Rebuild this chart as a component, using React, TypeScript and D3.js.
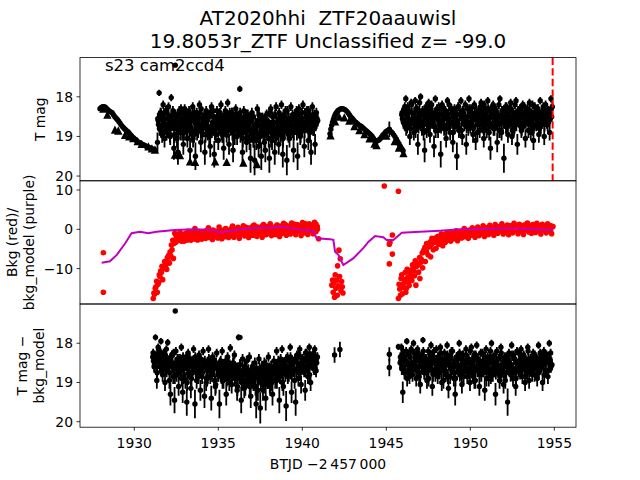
import React from "react";
import * as d3 from "d3";

// ---------------- text ----------------
const TITLE_LINES = ["AT2020hhi\u00a0 ZTF20aauwisl", "19.8053r_ZTF Unclassified z= -99.0"];
const FIELD_LABEL = "s23 cam2ccd4";
const X_LABEL = "BTJD \u22122\u2009457\u2009000";
const X_TICKS = [1930, 1935, 1940, 1945, 1950, 1955];
const MAG_TICKS = [18, 19, 20];
const BKG_TICKS = [10, 0, -10];
const X_DOMAIN = [1926.77, 1956.29];
const MAG_DOMAIN_TOP = [17.01, 20.12];
const BKG_DOMAIN = [-19.0, 12.34];
const MAG_DOMAIN_BOTTOM = [17.0, 20.14];
const SECTOR_END = 1954.9;
const CADENCE = 0.08;

// ---------------- panel 1: T mag ----------------
const P1_CURVE_A_START = 1927.96;
const P1_CURVE_A = [18.30, 18.27, 18.25, 18.25, 18.26, 18.30, 18.33, 18.36, 18.38, 18.40, 18.45, 18.50, 18.54, 18.58, 18.62, 18.67, 18.72, 18.76, 18.80, 18.83, 18.86, 18.89, 18.93, 18.97, 19.01, 19.04, 19.07, 19.10, 19.13, 19.15, 19.17, 19.19, 19.21, 19.22, 19.24, 19.26, 19.27, 19.29, 19.30, 19.32, 19.33, 19.35];

const P1_CURVE_B_T = [1941.65, 1941.70, 1941.75, 1941.80, 1941.85, 1941.90, 1941.95, 1942.00, 1942.06, 1942.12, 1942.18, 1942.25, 1942.32, 1942.40, 1942.48, 1942.56, 1942.64, 1942.72, 1942.80, 1942.88, 1942.96, 1943.04, 1943.12, 1943.20, 1943.28, 1943.36, 1943.44, 1943.52, 1943.60, 1943.68, 1943.76, 1943.84, 1943.92, 1944.00, 1944.08, 1944.16, 1944.24, 1944.32, 1944.40, 1944.48, 1944.56, 1944.64, 1944.72, 1944.80, 1944.88, 1944.96, 1945.04, 1945.12, 1945.20, 1945.28, 1945.36, 1945.44, 1945.52, 1945.60, 1945.68, 1945.76, 1945.84, 1945.92, 1946.00];
const P1_CURVE_B_MAG = [18.93, 18.82, 18.72, 18.64, 18.57, 18.51, 18.46, 18.42, 18.38, 18.35, 18.33, 18.31, 18.30, 18.30, 18.31, 18.33, 18.36, 18.40, 18.45, 18.50, 18.54, 18.58, 18.62, 18.65, 18.68, 18.71, 18.73, 18.75, 18.78, 18.81, 18.84, 18.87, 18.90, 18.93, 18.96, 19.00, 19.05, 19.10, 19.12, 19.11, 19.09, 19.06, 19.01, 18.96, 18.93, 18.89, 18.86, 18.84, 18.85, 18.88, 18.91, 18.96, 19.01, 19.07, 19.13, 19.19, 19.25, 19.31, 19.36];

const P1_LIMIT_T = [1928.16, 1928.40, 1928.85, 1929.05, 1929.45, 1929.70, 1929.94, 1930.20, 1930.44, 1930.84, 1931.05, 1931.23,
  1932.42, 1932.72, 1933.32, 1933.62, 1934.81, 1935.50, 1936.49, 1937.30,
  1941.68, 1941.95, 1942.20, 1942.50, 1942.80, 1943.10, 1943.40, 1943.70, 1944.00, 1944.30, 1944.42, 1945.00, 1945.50, 1945.75, 1946.02];
const P1_LIMIT_MAG = [18.30, 18.45, 18.83, 18.85, 18.96, 19.00, 19.04, 19.12, 19.19, 19.25, 19.30, 19.33,
  19.46, 19.47, 19.63, 19.64, 19.63, 19.64, 19.66, 19.70,
  18.97, 18.62, 18.50, 18.52, 18.60, 18.74, 18.84, 18.94, 19.05, 19.18, 19.22, 18.98, 19.12, 19.28, 19.42];

const P1_ORBIT1_START = 1931.40;
const P1_ORBIT1 = [
  18.55, 17.90, 18.40, 18.85, 18.20, 19.05, 18.35, 18.70, 18.25, 18.95,
  18.02, 18.60, 19.30, 18.45, 18.80, 19.40, 18.35, 18.90, 18.55, 19.20,
  18.30, 18.75, 19.05, 18.45, 19.35, 18.60, 18.25, 18.95, 19.50, 18.40,
  18.85, 18.20, 19.15, 18.55, 18.70, 19.40, 18.35, 18.90, 18.50, 19.25,
  18.25, 18.80, 19.45, 18.60, 18.35, 19.10, 18.70, 18.20, 18.95, 19.30,
  18.45, 18.85, 18.15, 19.20, 18.60, 18.40, 19.35, 18.75, 18.30, 19.00,
  18.55, 17.80, 18.90, 19.40, 18.35, 18.65, 19.15, 18.45, 18.85, 19.55,
  18.40, 19.05, 19.60, 18.70, 18.30, 19.25, 18.95, 19.50, 18.55, 18.85,
  19.35, 18.45, 18.80, 19.55, 18.30, 19.10, 18.65, 19.40, 18.25, 18.90,
  19.20, 18.50, 18.20, 19.45, 18.75, 18.35, 19.60, 18.60, 19.05, 18.25,
  18.85, 19.35, 18.45, 18.70, 19.50, 18.30, 19.00, 18.55, 18.20, 19.25,
  18.65, 18.35, 19.10, 18.50, 19.40, 18.25, 18.80, 19.20, 18.40, 18.60];

const P1_ORBIT1_CORE_START = 1931.44;
const P1_ORBIT1_CORE = [
  18.70, 18.50, 18.85, 18.60, 18.45, 18.75, 18.90, 18.55, 18.65, 18.80,
  18.45, 18.70, 18.95, 18.60, 18.50, 18.85, 18.65, 18.40, 18.75, 18.90,
  18.55, 18.70, 18.45, 18.85, 18.60, 18.95, 18.50, 18.65, 18.80, 18.55,
  18.70, 18.40, 18.85, 18.65, 18.50, 18.95, 18.60, 18.75, 18.45, 18.80,
  18.65, 18.50, 18.90, 18.70, 18.55, 18.80, 18.45, 18.65, 18.95, 18.60,
  18.75, 18.50, 18.85, 18.40, 18.70, 18.90, 18.55, 18.65, 18.80, 18.50,
  18.70, 18.95, 18.60, 18.80, 18.50, 18.75, 19.00, 18.65, 18.85, 18.55,
  18.80, 19.05, 18.70, 18.90, 18.60, 19.00, 18.75, 18.55, 18.95, 18.70,
  18.85, 18.60, 19.05, 18.75, 18.90, 18.50, 18.80, 19.00, 18.65, 18.85,
  18.55, 18.95, 18.70, 18.45, 18.85, 18.65, 18.90, 18.55, 18.75, 18.60,
  18.80, 18.50, 18.70, 18.90, 18.45, 18.65, 18.85, 18.55, 18.75, 18.40,
  18.70, 18.60, 18.85, 18.50, 18.65, 18.80, 18.45, 18.70, 18.55];

const P1_ORBIT1_MID_START = 1931.42;
const P1_ORBIT1_MID = [
  18.60, 18.80, 18.40, 18.95, 18.55, 18.70, 18.35, 18.85, 18.50, 19.00,
  18.65, 18.35, 18.80, 18.55, 19.05, 18.45, 18.70, 18.30, 18.90, 18.60,
  18.40, 18.85, 18.65, 18.35, 18.75, 18.50, 19.05, 18.40, 18.70, 18.90,
  18.50, 18.75, 18.30, 18.95, 18.60, 18.45, 18.80, 18.55, 19.00, 18.40,
  18.85, 18.35, 18.60, 18.95, 18.50, 18.70, 18.40, 18.90, 18.55, 18.75,
  18.35, 18.95, 18.65, 18.50, 18.80, 18.40, 18.70, 19.00, 18.45, 18.85,
  18.60, 18.40, 18.75, 19.05, 18.55, 18.90, 18.45, 18.70, 19.10, 18.60,
  18.95, 18.50, 18.85, 19.10, 18.70, 18.45, 19.00, 18.80, 18.60, 19.15,
  18.50, 18.90, 18.70, 18.40, 19.05, 18.65, 18.85, 18.45, 18.95, 18.75,
  18.40, 18.85, 18.60, 19.05, 18.50, 18.75, 18.35, 18.95, 18.65, 18.80,
  18.45, 18.90, 18.55, 18.35, 18.80, 18.60, 18.95, 18.40, 18.70, 18.85,
  18.50, 18.75, 18.35, 18.90, 18.60, 18.45, 18.80, 18.55, 18.65];

const P1_ORBIT2_START = 1945.92;
const P1_ORBIT2 = [
  18.45, 18.60, 18.30, 18.05, 18.75, 18.35, 19.00, 18.15, 18.55, 18.90,
  18.10, 18.65, 19.20, 18.35, 18.00, 18.80, 18.45, 19.35, 18.25, 18.70,
  18.15, 18.95, 18.40, 18.60, 19.25, 18.05, 18.50, 18.85, 18.30, 19.45,
  18.20, 18.70, 18.40, 19.05, 18.10, 18.55, 18.90, 18.30, 19.15, 18.45,
  18.65, 19.50, 18.25, 18.80, 18.10, 19.00, 18.45, 18.60, 19.20, 18.30,
  18.05, 18.75, 18.40, 18.95, 18.20, 19.10, 18.55, 18.35, 18.85, 18.15,
  18.60, 19.05, 18.30, 18.70, 18.10, 18.90, 19.30, 18.45, 18.20, 18.80,
  18.35, 19.15, 18.55, 18.05, 18.85, 18.40, 19.55, 18.65, 18.25, 18.95,
  18.50, 18.15, 19.00, 18.40, 18.75, 18.10, 19.20, 18.60, 18.30, 18.85,
  18.20, 18.65, 19.05, 18.35, 18.55, 18.15, 18.90, 18.45, 19.10, 18.25,
  18.70, 18.30, 18.95, 18.10, 18.55, 18.40, 19.00, 18.20, 18.65, 18.35,
  18.90, 18.05, 18.25];

const P1_ORBIT2_CORE_START = 1945.96;
const P1_ORBIT2_CORE = [
  18.55, 18.35, 18.70, 18.45, 18.25, 18.60, 18.80, 18.40, 18.50, 18.65,
  18.30, 18.55, 18.75, 18.45, 18.60, 18.35, 18.70, 18.50, 18.85, 18.40,
  18.60, 18.30, 18.65, 18.50, 18.75, 18.40, 18.55, 18.25, 18.70, 18.45,
  18.60, 18.80, 18.35, 18.55, 18.45, 18.70, 18.30, 18.65, 18.50, 18.75,
  18.40, 18.60, 18.85, 18.45, 18.55, 18.35, 18.70, 18.50, 18.65, 18.80,
  18.45, 18.30, 18.60, 18.75, 18.50, 18.40, 18.70, 18.55, 18.25, 18.65,
  18.45, 18.80, 18.55, 18.35, 18.60, 18.75, 18.40, 18.50, 18.70, 18.30,
  18.60, 18.45, 18.85, 18.50, 18.35, 18.65, 18.55, 18.75, 18.40, 18.60,
  18.30, 18.70, 18.50, 18.80, 18.45, 18.60, 18.35, 18.55, 18.75, 18.45,
  18.65, 18.40, 18.55, 18.30, 18.70, 18.50, 18.60, 18.80, 18.40, 18.55,
  18.35, 18.65, 18.45, 18.75, 18.50, 18.30, 18.60, 18.45, 18.70, 18.40,
  18.55, 18.50];

const P1_ORBIT2_MID_START = 1945.94;
const P1_ORBIT2_MID = [
  18.40, 18.65, 18.25, 18.80, 18.50, 18.35, 18.70, 18.20, 18.60, 18.45,
  18.85, 18.30, 18.55, 18.15, 18.70, 18.40, 18.90, 18.35, 18.60, 18.25,
  18.75, 18.50, 18.20, 18.65, 18.40, 18.85, 18.30, 18.60, 18.45, 18.75,
  18.25, 18.55, 18.35, 18.80, 18.50, 18.20, 18.65, 18.40, 18.90, 18.30,
  18.55, 18.70, 18.25, 18.45, 18.85, 18.35, 18.60, 18.20, 18.75, 18.50,
  18.30, 18.65, 18.45, 18.80, 18.25, 18.55, 18.90, 18.40, 18.60, 18.35,
  18.75, 18.20, 18.50, 18.85, 18.30, 18.65, 18.45, 18.25, 18.80, 18.55,
  18.40, 18.70, 18.20, 18.60, 18.90, 18.35, 18.50, 18.25, 18.75, 18.45,
  18.65, 18.30, 18.85, 18.50, 18.20, 18.70, 18.40, 18.55, 18.30, 18.80,
  18.45, 18.25, 18.65, 18.50, 18.85, 18.35, 18.60, 18.20, 18.75, 18.40,
  18.55, 18.30, 18.80, 18.45, 18.65, 18.25, 18.70, 18.50, 18.35, 18.60,
  18.45, 18.30];

const P1_EXTRA_T = [1932.44, 1931.38, 1945.18];
const P1_EXTRA_MAG = [17.20, 19.15, 18.82];
const P1_EXTRA_ERR = [0.03, 0.25, 0.20];

// ---------------- panel 2: background ----------------
const P2_ORBIT1_START = 1931.13;
const P2_ORBIT1 = [
  -17.6, -16.5, -14.6, -16.0, -13.5, -12.0, -11.0, -12.8, -9.9, -8.5, -10.2, -7.8, -8.6, -6.8, -5.2, -7.4, -1.0,
  -3.2, -1.5, -2.6, -0.8, -2.9, -1.8, -3.0, -1.2, -2.4, -0.5,
  -2.0, -2.8, -1.0, -2.2, 0.2, -1.6, -2.7, -0.9, -1.9, -2.5,
  -0.6, -1.8, -2.3, -1.1, 0.4, -2.0, -1.4, -2.6, -0.3, -1.7,
  -1.0, -2.2, 0.6, -1.5, -2.4, -0.7, -1.9, 0.2, -1.2, -2.1,
  -0.4, -1.6, 0.8, -2.0, -0.9, -1.3, 0.5, -2.3, -0.6, -1.1,
  0.9, -1.7, -0.2, -1.0, -2.1, 0.3, -0.8, -1.5, 1.1, -0.5,
  -1.8, 0.5, -1.2, -0.3, -2.0, 1.2, -0.7, -1.4, 0.2, -0.9,
  1.4, -1.6, 0.0, -0.6, -1.3, 1.0, -0.2, -1.8, 0.6, -1.0,
  1.5, -0.4, -1.5, 0.8, -0.1, -1.2, 1.6, -0.8, 0.3, -1.4,
  1.2, -0.5, 0.1, -1.6, 1.7, -0.3, -0.9, 0.9, -1.3, 1.4,
  -0.2, 0.5, -1.1, 1.8, -0.6, 0.7, -2.4];

const P2_RISE_T = [1931.17, 1931.25, 1931.33, 1931.41, 1931.49, 1931.57, 1931.65, 1931.73, 1931.81, 1931.89, 1931.97, 1932.05, 1932.13, 1932.21, 1932.29, 1932.37];
const P2_RISE_V = [-16.2, -15.0, -13.2, -14.0, -11.6, -10.6, -9.4, -10.0, -8.2, -9.0, -7.2, -6.6, -5.8, -4.0, -2.8, -3.6];

const P2_ORBIT1_CORE_START = 1932.50;
const P2_ORBIT1_CORE = [
  -1.8, -2.6, -1.2, -2.2, -3.0, -1.6, -2.4, -1.0, -2.8, -1.9,
  -1.4, -2.3, -0.8, -1.7, -2.5, -1.1, -2.0, -0.6, -1.5, -2.2,
  -1.0, -1.8, -0.4, -1.4, -2.1, -0.7, -1.6, -0.2, -1.2, -1.9,
  -0.5, -1.3, -2.0, -0.3, -1.0, -1.7, 0.0, -0.8, -1.5, -0.4,
  -1.1, 0.2, -0.6, -1.4, -0.1, -0.9, 0.4, -0.5, -1.2, 0.1,
  -0.7, -1.3, 0.5, -0.3, -1.0, 0.3, -0.6, 0.8, -0.2, -0.9,
  0.6, -0.4, 0.2, -0.8, 0.9, 0.0, -0.5, 0.7, -0.1, -0.7,
  1.0, 0.3, -0.4, 0.6, -0.2, 1.1, 0.1, -0.6, 0.8, 0.4,
  -0.3, 1.2, 0.0, 0.7, -0.5, 0.9, 0.2, -0.2, 1.3, 0.5,
  -0.4, 0.8, 0.1, 1.0, -0.3, 0.6, 1.4, -0.1, 0.7, 0.3,
  1.1, -0.2, 0.9, 0.4, 1.3, 0.0];

const P2_DIP_T = [1941.76, 1941.80, 1941.84, 1941.88, 1941.92, 1941.96, 1942.00, 1942.04, 1942.08, 1942.10, 1942.14, 1942.18, 1942.22, 1942.26, 1942.30, 1942.34, 1942.38, 1942.42];
const P2_DIP_V = [-14.2, -12.9, -16.0, -13.6, -17.3, -11.6, -15.0, -13.0, -16.8, -9.3, -14.4, -5.3, -12.0, -7.5, -15.6, -13.3, -14.6, -16.2];

const P2_ISOLATED_T = [1928.16, 1928.16, 1944.88, 1945.72, 1945.36, 1945.18, 1945.22, 1945.36, 1945.18];
const P2_ISOLATED_V = [-5.95, -16.0, 11.0, 9.7, -1.45, -3.8, -3.3, -6.3, -8.8];

const P2_ORBIT2_START = 1945.72;
const P2_ORBIT2 = [
  -17.6, -15.2, -12.5, -16.4, -13.8, -11.0, -15.0, -12.2, -14.3, -10.4,
  -13.0, -9.5, -11.8, -14.2, -8.6, -10.9, -12.5, -7.6, -9.8, -5.3,
  -8.2, -3.6, -6.5, -4.4, -7.0, -2.3, -5.2, -3.1, -4.8, -1.9,
  -3.8, -2.6, -1.2, -4.2, -2.0, -3.3, -0.9, -2.7, -1.6, -3.0,
  -1.0, -2.4, -1.8, -0.4, -2.9, -1.4, -0.7, -2.2, -1.1, 0.2,
  -1.9, -0.8, -2.3, -0.2, -1.5, 0.4, -1.2, -2.0, -0.5, 0.6,
  -1.6, -0.3, -1.0, 0.9, -1.8, -0.6, 0.3, -1.3, 1.0, -0.8,
  0.1, -1.5, 1.2, -0.4, -1.0, 0.7, -0.2, 1.4, -1.2, 0.4,
  -0.6, 1.1, -1.4, 0.2, 0.9, -0.9, 1.5, -0.3, 0.6, -1.1,
  1.3, -0.5, 0.3, -1.3, 1.0, -0.1, 1.6, -0.7, 0.5, -1.0,
  1.2, 0.0, -0.8, 1.5, -0.4, 0.8, -1.2, 1.3, -0.2, 0.6,
  -0.9, 1.4, -0.3, 0.9, -1.1, 0.7];

const P2_RECOVERY_T = [1945.76, 1945.84, 1945.92, 1946.00, 1946.08, 1946.16, 1946.24, 1946.32, 1946.40, 1946.48, 1946.56, 1946.64, 1946.72, 1946.80];
const P2_RECOVERY_V = [-14.0, -16.8, -11.6, -14.8, -12.8, -16.0, -10.2, -13.4, -11.2, -12.0, -9.0, -10.6, -8.0, -9.4];

const P2_ORBIT2_CORE_START = 1946.90;
const P2_ORBIT2_CORE = [
  -9.0, -7.2, -8.4, -6.0, -5.8, -4.6, -5.5, -3.9, -4.4, -3.2,
  -3.8, -2.7, -3.3, -2.2, -2.9, -1.8, -2.5, -3.1, -1.6, -2.3,
  -1.4, -2.0, -2.6, -1.2, -1.8, -0.9, -2.1, -1.5, -1.0, -1.9,
  -0.7, -1.4, -1.1, -0.5, -1.6, -0.8, -1.2, -0.3, -1.0, -0.6,
  -1.3, -0.2, -0.9, -0.4, -1.1, 0.0, -0.7, -0.3, 0.2, -0.8,
  -0.1, 0.4, -0.5, 0.1, -0.9, 0.3, -0.2, 0.6, -0.6, 0.2,
  0.5, -0.3, 0.8, 0.0, -0.5, 0.7, 0.3, -0.2, 0.9, 0.1,
  -0.4, 0.6, 0.2, 1.0, -0.1, 0.4, 0.8, -0.3, 0.5, 1.1,
  0.0, 0.7, 0.3, -0.2, 0.9, 0.4, 1.2, 0.1, 0.6, -0.1,
  0.8, 0.3, 1.0, 0.2, 0.5, 0.9, -0.2, 0.6, 0.4, 0.8];

const BKG_MODEL_T = [1928.06, 1928.55, 1928.96, 1929.45, 1929.84, 1930.34, 1930.84, 1931.32, 1932.42, 1933.51, 1934.70, 1935.10, 1936.29, 1937.46, 1938.27, 1938.67, 1939.68, 1940.66, 1940.76, 1940.86, 1941.64, 1941.85, 1941.95, 1942.15, 1942.44, 1943.03, 1943.63, 1943.93, 1944.33, 1944.82, 1945.02, 1945.42, 1945.92, 1947.00, 1948.20, 1949.38, 1950.56, 1952.17, 1953.75, 1954.95];
const BKG_MODEL_V = [-8.5, -8.15, -6.5, -3.6, -1.0, -0.6, -1.0, -0.6, -0.2, 0.0, -0.2, -0.8, 0.0, 0.4, 0.4, 0.7, 0.0, -0.35, -1.45, -2.3, -2.5, -2.7, -5.7, -6.5, -9.1, -7.4, -4.8, -3.2, -1.7, -2.0, -2.7, -2.7, -0.85, -0.6, -0.35, 0.0, 0.0, 0.25, 0.1, -0.2];

// ---------------- panel 3: T mag - bkg_model ----------------
const P3_ORBIT1_START = 1931.10;
const P3_ORBIT1_STEP = 0.081;
const P3_ORBIT1 = [
  18.35, 18.60, 17.85, 18.95, 18.10, 18.45, 17.95, 18.70, 18.25, 19.00,
  18.15, 17.98, 18.55, 19.30, 18.30, 18.85, 19.45, 18.20, 18.65, 19.10,
  18.40, 18.10, 19.25, 18.60, 18.95, 19.50, 18.25, 18.75, 19.15, 18.45,
  18.15, 19.55, 18.50, 18.85, 18.30, 19.20, 18.65, 18.20, 19.35, 18.55,
  18.90, 18.15, 18.70, 19.40, 18.35, 18.60, 19.10, 18.25, 18.80, 19.55,
  18.45, 18.20, 18.95, 18.60, 19.30, 18.35, 18.75, 18.12, 19.05, 18.50,
  18.30, 18.85, 19.20, 17.85, 18.55, 19.45, 18.40, 18.70, 19.10, 18.45,
  18.90, 18.35, 19.35, 18.65, 19.00, 18.50, 19.55, 18.80, 18.40, 19.65,
  18.75, 19.20, 18.50, 19.40, 18.85, 18.35, 19.05, 18.60, 19.30, 18.45,
  18.95, 18.20, 18.70, 19.45, 18.40, 18.15, 19.10, 18.55, 19.60, 18.35,
  18.80, 18.10, 19.25, 18.50, 18.70, 19.50, 18.30, 18.90, 18.15, 19.05,
  18.45, 18.65, 19.20, 18.25, 18.85, 18.10, 19.00, 18.40, 18.60, 18.15,
  18.70, 18.35];

const P3_ORBIT1_CORE_START = 1931.14;
const P3_ORBIT1_CORE = [
  18.45, 18.30, 18.60, 18.40, 18.25, 18.55, 18.70, 18.35, 18.50, 18.65,
  18.40, 18.55, 18.75, 18.45, 18.30, 18.65, 18.50, 18.80, 18.40, 18.60,
  18.70, 18.45, 18.85, 18.55, 18.35, 18.65, 18.75, 18.50, 18.90, 18.60,
  18.45, 18.70, 18.55, 18.85, 18.40, 18.65, 18.75, 18.50, 18.60, 18.90,
  18.55, 18.70, 18.45, 18.80, 18.60, 18.95, 18.50, 18.65, 18.75, 18.55,
  18.85, 18.60, 18.70, 18.45, 18.90, 18.65, 18.55, 18.80, 18.70, 18.60,
  18.75, 18.90, 18.65, 18.85, 18.70, 19.00, 18.80, 18.60, 18.95, 18.75,
  18.85, 19.05, 18.70, 18.95, 18.80, 19.10, 18.75, 18.90, 18.65, 19.00,
  18.85, 18.70, 19.05, 18.80, 18.95, 18.65, 18.85, 19.00, 18.75, 18.60,
  18.90, 18.70, 18.55, 18.85, 18.65, 18.75, 18.50, 18.80, 18.60, 18.70,
  18.45, 18.75, 18.55, 18.65, 18.40, 18.70, 18.50, 18.60, 18.35, 18.65,
  18.55, 18.45, 18.70, 18.40, 18.60, 18.30, 18.55, 18.45, 18.65, 18.35,
  18.50];

const P3_ORBIT1_MID_START = 1931.12;
const P3_ORBIT1_MID = [
  18.25, 18.55, 18.40, 18.75, 18.15, 18.60, 18.35, 18.80, 18.50, 18.30,
  18.70, 18.45, 18.95, 18.35, 18.60, 18.25, 18.85, 18.55, 18.40, 18.75,
  18.50, 18.90, 18.35, 18.65, 18.45, 19.00, 18.55, 18.40, 18.80, 18.50,
  18.65, 18.35, 18.95, 18.55, 18.75, 18.40, 18.85, 18.60, 18.45, 19.00,
  18.65, 18.40, 18.85, 18.55, 18.70, 18.45, 19.05, 18.60, 18.80, 18.50,
  18.70, 18.95, 18.55, 18.80, 18.45, 18.75, 19.00, 18.60, 18.85, 18.50,
  18.90, 18.65, 19.10, 18.70, 18.55, 18.95, 18.75, 19.15, 18.65, 18.85,
  18.70, 19.10, 18.80, 18.60, 19.00, 18.85, 18.65, 19.20, 18.75, 18.90,
  18.60, 19.05, 18.80, 18.55, 18.95, 18.70, 19.10, 18.60, 18.85, 18.75,
  18.55, 18.95, 18.45, 18.80, 18.60, 19.00, 18.50, 18.70, 18.40, 18.85,
  18.60, 18.35, 18.80, 18.50, 18.95, 18.40, 18.65, 18.30, 18.75, 18.50,
  18.40, 18.70, 18.25, 18.60, 18.45, 18.80, 18.35, 18.55, 18.25, 18.65,
  18.40];

const P3_ORBIT2_START = 1945.82;
const P3_ORBIT2 = [
  18.50, 18.10, 19.25, 18.35, 18.70, 17.95, 18.55, 18.85, 18.20, 18.65,
  18.00, 18.45, 18.90, 18.15, 18.60, 19.05, 18.30, 17.92, 18.75, 18.40,
  18.95, 18.20, 18.55, 18.05, 19.10, 18.35, 18.70, 18.15, 18.85, 18.45,
  18.10, 19.00, 18.50, 18.25, 18.80, 18.05, 19.15, 18.40, 18.65, 18.20,
  18.90, 19.30, 18.35, 18.60, 18.00, 18.75, 19.05, 18.30, 18.55, 18.15,
  18.85, 18.40, 19.00, 18.10, 18.65, 18.30, 18.95, 18.05, 18.50, 19.10,
  18.25, 18.70, 18.45, 19.20, 18.15, 18.60, 18.90, 18.35, 18.00, 18.80,
  18.45, 19.30, 18.20, 18.65, 18.95, 18.10, 18.55, 19.05, 18.35, 18.75,
  19.50, 18.25, 18.60, 18.05, 18.90, 18.40, 19.10, 18.20, 18.70, 18.45,
  18.15, 18.85, 18.30, 19.00, 18.55, 18.10, 18.95, 18.40, 18.65, 18.25,
  18.80, 18.35, 18.90, 18.05, 18.60, 18.45, 19.00, 18.20, 18.70, 18.30,
  18.85, 18.00, 18.25, 18.55];

const P3_ORBIT2_CORE_START = 1945.86;
const P3_ORBIT2_CORE = [
  18.45, 18.30, 18.60, 18.40, 18.20, 18.55, 18.70, 18.35, 18.50, 18.65,
  18.25, 18.45, 18.60, 18.35, 18.75, 18.50, 18.30, 18.65, 18.45, 18.55,
  18.70, 18.40, 18.60, 18.30, 18.80, 18.50, 18.45, 18.65, 18.35, 18.75,
  18.55, 18.40, 18.70, 18.60, 18.45, 18.85, 18.50, 18.35, 18.65, 18.55,
  18.75, 18.45, 18.60, 18.40, 18.80, 18.55, 18.30, 18.70, 18.50, 18.65,
  18.40, 18.75, 18.55, 18.45, 18.85, 18.60, 18.35, 18.70, 18.50, 18.60,
  18.80, 18.45, 18.65, 18.35, 18.75, 18.55, 18.50, 18.85, 18.40, 18.60,
  18.70, 18.45, 18.55, 18.80, 18.35, 18.65, 18.50, 18.75, 18.45, 18.60,
  18.40, 18.70, 18.55, 18.65, 18.30, 18.75, 18.50, 18.60, 18.45, 18.70,
  18.35, 18.55, 18.65, 18.45, 18.75, 18.40, 18.60, 18.50, 18.70, 18.35,
  18.55, 18.45, 18.65, 18.40, 18.60, 18.30, 18.55, 18.45, 18.70, 18.35,
  18.50, 18.40, 18.55];

const P3_ORBIT2_MID_START = 1945.84;
const P3_ORBIT2_MID = [
  18.35, 18.65, 18.20, 18.75, 18.45, 18.90, 18.30, 18.60, 18.15, 18.80,
  18.50, 18.35, 18.70, 18.25, 18.85, 18.45, 18.60, 18.20, 18.75, 18.40,
  18.55, 18.90, 18.30, 18.65, 18.45, 18.20, 18.80, 18.55, 18.35, 18.70,
  18.25, 18.60, 18.95, 18.40, 18.75, 18.30, 18.55, 18.85, 18.20, 18.65,
  18.45, 18.90, 18.35, 18.70, 18.25, 18.60, 18.40, 18.85, 18.55, 18.30,
  18.75, 18.50, 18.20, 18.65, 18.45, 18.95, 18.30, 18.60, 18.40, 18.80,
  18.55, 18.25, 18.70, 18.45, 18.90, 18.35, 18.65, 18.20, 18.80, 18.50,
  18.30, 18.75, 18.60, 18.40, 18.85, 18.25, 18.70, 18.45, 18.95, 18.35,
  18.60, 18.50, 18.80, 18.30, 18.65, 18.40, 18.90, 18.55, 18.25, 18.75,
  18.45, 18.60, 18.35, 18.85, 18.50, 18.20, 18.70, 18.40, 18.80, 18.55,
  18.30, 18.65, 18.45, 18.75, 18.25, 18.60, 18.40, 18.80, 18.50, 18.35,
  18.70, 18.45, 18.60];

const P3_EXTRA_T = [1932.44, 1936.29, 1941.92, 1942.24, 1945.18, 1945.18, 1945.72];
const P3_EXTRA_MAG = [17.18, 17.85, 18.30, 18.16, 18.28, 18.62, 18.09];
const P3_EXTRA_ERR = [0.03, 0.04, 0.20, 0.20, 0.18, 0.22, 0.08];

const P3_LIMIT_T = [1931.50];
const P3_LIMIT_MAG = [18.15];

// ---------------- helpers ----------------
type Pt = { t: number; v: number; e: number };

function magErr(m: number): number {
  return Math.max(0.08, 0.115 * Math.pow(10, 0.4 * (m - 18.3)));
}

function series(start: number, step: number, vals: number[], err: (v: number) => number): Pt[] {
  return vals.map((v, i) => ({ t: start + i * step, v, e: err(v) }));
}

function paired(ts: number[], vs: number[], es?: number[] | number): Pt[] {
  return ts.map((t, i) => ({
    t,
    v: vs[i],
    e: Array.isArray(es) ? es[i] : typeof es === "number" ? es : 0,
  }));
}

const FONT = "DejaVu Sans, sans-serif";
const L = 80, R = 576;
const T1 = 57.6, B1 = 180.8, T2 = 180.8, B2 = 304, T3 = 304, B3 = 427.2;

const x = d3.scaleLinear().domain(X_DOMAIN).range([L, R]);
const y1 = d3.scaleLinear().domain(MAG_DOMAIN_TOP).range([T1, B1]);
const y2 = d3.scaleLinear().domain(BKG_DOMAIN).range([B2, T2]);
const y3 = d3.scaleLinear().domain(MAG_DOMAIN_BOTTOM).range([T3, B3]);

function ErrPoints({ data, y, color, r, lw }: { data: Pt[]; y: d3.ScaleLinear<number, number>; color: string; r: number; lw: number }) {
  return (
    <g>
      {data.filter((d) => d.e > 0).map((d, i) => (
        <line key={"e" + i} x1={x(d.t)} x2={x(d.t)} y1={y(d.v - d.e)} y2={y(d.v + d.e)} stroke={color} strokeWidth={lw} />
      ))}
      {data.map((d, i) => (
        <circle key={"c" + i} cx={x(d.t)} cy={y(d.v)} r={r} fill={color} />
      ))}
    </g>
  );
}

function Triangles({ data, y }: { data: Pt[]; y: d3.ScaleLinear<number, number> }) {
  const h = 4.15;
  return (
    <g>
      {data.map((d, i) => {
        const cx = x(d.t), cy = y(d.v);
        return <path key={i} d={`M${cx},${cy - h}L${cx - h},${cy + h}L${cx + h},${cy + h}Z`} fill="black" />;
      })}
    </g>
  );
}

function YAxis({ y, ticks }: { y: d3.ScaleLinear<number, number>; ticks: number[] }) {
  return (
    <g>
      {ticks.map((t) => (
        <g key={t}>
          <line x1={L - 3.5} x2={L} y1={y(t)} y2={y(t)} stroke="black" strokeWidth={0.8} />
          <text x={L - 7} y={y(t) + 5} textAnchor="end" fontSize={13.9} fontFamily={FONT}>
            {t < 0 ? "\u2212" + Math.abs(t) : String(t)}
          </text>
        </g>
      ))}
    </g>
  );
}

function RotLabel({ lines, cx, cy }: { lines: string[]; cx: number[]; cy: number }) {
  return (
    <g>
      {lines.map((s, i) => (
        <text key={i} transform={`translate(${cx[i]},${cy}) rotate(-90)`} textAnchor="middle" fontSize={13.9} fontFamily={FONT}>
          {s}
        </text>
      ))}
    </g>
  );
}

export default function App() {
  const curveA = series(P1_CURVE_A_START, CADENCE, P1_CURVE_A, () => 0.05);
  const curveB = paired(P1_CURVE_B_T, P1_CURVE_B_MAG, 0.05);
  const p1 = [
    series(P1_ORBIT1_START, CADENCE, P1_ORBIT1, magErr),
    series(P1_ORBIT1_CORE_START, CADENCE, P1_ORBIT1_CORE, magErr),
    series(P1_ORBIT1_MID_START, CADENCE, P1_ORBIT1_MID, magErr),
    series(P1_ORBIT2_START, CADENCE, P1_ORBIT2, magErr),
    series(P1_ORBIT2_CORE_START, CADENCE, P1_ORBIT2_CORE, magErr),
    series(P1_ORBIT2_MID_START, CADENCE, P1_ORBIT2_MID, magErr),
    paired(P1_EXTRA_T, P1_EXTRA_MAG, P1_EXTRA_ERR),
  ];
  const p1lim = paired(P1_LIMIT_T, P1_LIMIT_MAG);

  const p2 = [
    series(P2_ORBIT1_START, CADENCE, P2_ORBIT1, () => 0),
    paired(P2_RISE_T, P2_RISE_V),
    series(P2_ORBIT1_CORE_START, CADENCE, P2_ORBIT1_CORE, () => 0),
    paired(P2_DIP_T, P2_DIP_V),
    paired(P2_ISOLATED_T, P2_ISOLATED_V),
    series(P2_ORBIT2_START, CADENCE, P2_ORBIT2, () => 0),
    paired(P2_RECOVERY_T, P2_RECOVERY_V),
    series(P2_ORBIT2_CORE_START, CADENCE, P2_ORBIT2_CORE, () => 0),
  ];
  const model = paired(BKG_MODEL_T, BKG_MODEL_V);
  const modelLine = d3.line<Pt>().x((d) => x(d.t)).y((d) => y2(d.v))(model) || "";

  const p3 = [
    series(P3_ORBIT1_START, P3_ORBIT1_STEP, P3_ORBIT1, magErr),
    series(P3_ORBIT1_CORE_START, P3_ORBIT1_STEP, P3_ORBIT1_CORE, magErr),
    series(P3_ORBIT1_MID_START, P3_ORBIT1_STEP, P3_ORBIT1_MID, magErr),
    series(P3_ORBIT2_START, CADENCE, P3_ORBIT2, magErr),
    series(P3_ORBIT2_CORE_START, CADENCE, P3_ORBIT2_CORE, magErr),
    series(P3_ORBIT2_MID_START, CADENCE, P3_ORBIT2_MID, magErr),
    paired(P3_EXTRA_T, P3_EXTRA_MAG, P3_EXTRA_ERR),
  ];
  const p3lim = paired(P3_LIMIT_T, P3_LIMIT_MAG);

  const red = "#ff0000";

  return (
    <svg width={640} height={480} style={{ display: "block", position: "absolute", left: 0, top: 0, background: "white" }}>
      <defs>
        <clipPath id="c1"><rect x={L} y={T1} width={R - L} height={B1 - T1} /></clipPath>
        <clipPath id="c2"><rect x={L} y={T2} width={R - L} height={B2 - T2} /></clipPath>
        <clipPath id="c3"><rect x={L} y={T3} width={R - L} height={B3 - T3} /></clipPath>
      </defs>
      <rect x={0} y={0} width={640} height={480} fill="white" />

      {TITLE_LINES.map((s, i) => (
        <text key={i} x={(L + R) / 2} y={25 + i * 23} textAnchor="middle" fontSize={20} fontFamily={FONT}>{s}</text>
      ))}

      <g clipPath="url(#c1)">
        <ErrPoints data={curveA} y={y1} color="black" r={2.7} lw={1.8} />
        <ErrPoints data={curveB} y={y1} color="black" r={2.7} lw={1.8} />
        <Triangles data={p1lim} y={y1} />
        {p1.map((s, i) => <ErrPoints key={i} data={s} y={y1} color="black" r={2.7} lw={1.8} />)}
        <line x1={x(SECTOR_END)} x2={x(SECTOR_END)} y1={T1} y2={B1} stroke={red} strokeWidth={2} strokeDasharray="7.4,3.2" />
      </g>
      <text x={105} y={70.5} fontSize={16.5} fontFamily={FONT}>{FIELD_LABEL}</text>

      <g clipPath="url(#c2)">
        {p2.map((s, i) => <ErrPoints key={i} data={s} y={y2} color={red} r={2.8} lw={1} />)}
        <path d={modelLine} fill="none" stroke="#bf00bf" strokeWidth={2} />
      </g>

      <g clipPath="url(#c3)">
        <Triangles data={p3lim} y={y3} />
        {p3.map((s, i) => <ErrPoints key={i} data={s} y={y3} color="black" r={2.7} lw={1.8} />)}
      </g>

      <rect x={L} y={T1} width={R - L} height={B1 - T1} fill="none" stroke="black" strokeWidth={0.8} />
      <rect x={L} y={T2} width={R - L} height={B2 - T2} fill="none" stroke="black" strokeWidth={0.8} />
      <rect x={L} y={T3} width={R - L} height={B3 - T3} fill="none" stroke="black" strokeWidth={0.8} />

      <YAxis y={y1} ticks={MAG_TICKS} />
      <YAxis y={y2} ticks={BKG_TICKS} />
      <YAxis y={y3} ticks={MAG_TICKS} />

      {X_TICKS.map((t) => (
        <g key={t}>
          <line x1={x(t)} x2={x(t)} y1={B3} y2={B3 + 3.5} stroke="black" strokeWidth={0.8} />
          <text x={x(t)} y={448.3} textAnchor="middle" fontSize={13.9} fontFamily={FONT}>{t}</text>
        </g>
      ))}
      <text x={(L + R) / 2} y={468.5} textAnchor="middle" fontSize={13.9} fontFamily={FONT}>{X_LABEL}</text>

      <RotLabel lines={["T mag"]} cx={[44.5]} cy={(T1 + B1) / 2} />
      <RotLabel lines={["Bkg (red)/", "bkg_model (purple)"]} cx={[17, 33.5]} cy={(T2 + B2) / 2} />
      <RotLabel lines={["T mag \u2212", "bkg_model"]} cx={[27, 44]} cy={(T3 + B3) / 2} />
    </svg>
  );
}
